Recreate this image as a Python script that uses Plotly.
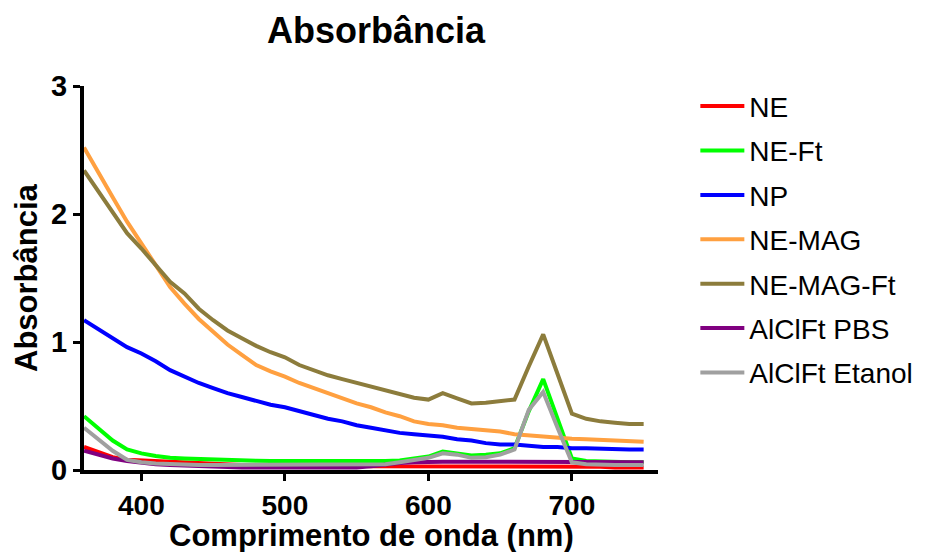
import plotly.graph_objects as go

# Wavelengths (nm), 10 nm steps
wavelength = list(range(360, 760, 10))

ne = [0.18, 0.14, 0.10, 0.08, 0.075, 0.07, 0.065, 0.06, 0.05, 0.045,
      0.04, 0.04, 0.04, 0.04, 0.04, 0.04, 0.04, 0.04, 0.04, 0.035,
      0.03, 0.03, 0.03, 0.03, 0.03, 0.03, 0.03, 0.03, 0.03, 0.03,
      0.03, 0.03, 0.03, 0.03, 0.03, 0.025, 0.025, 0.02, 0.02, 0.02]

ne_ft = [0.42, 0.32, 0.23, 0.16, 0.13, 0.11, 0.095, 0.09, 0.085, 0.08,
         0.078, 0.075, 0.072, 0.07, 0.07, 0.068, 0.066, 0.065, 0.065, 0.065,
         0.068, 0.07, 0.075, 0.087, 0.105, 0.145, 0.13, 0.113, 0.12, 0.13,
         0.17, 0.46, 0.71, 0.40, 0.09, 0.07, 0.065, 0.06, 0.06, 0.06]

np_ = [1.17, 1.10, 1.03, 0.96, 0.91, 0.85, 0.78, 0.73, 0.68, 0.64,
       0.60, 0.57, 0.54, 0.51, 0.49, 0.46, 0.43, 0.40, 0.38, 0.35,
       0.33, 0.31, 0.29, 0.28, 0.27, 0.26, 0.24, 0.23, 0.21, 0.20,
       0.20, 0.19, 0.18, 0.18, 0.17, 0.17, 0.165, 0.16, 0.16, 0.16]

ne_mag = [2.52, 2.32, 2.13, 1.94, 1.77, 1.60, 1.43, 1.30, 1.18, 1.08,
          0.98, 0.90, 0.82, 0.77, 0.73, 0.68, 0.64, 0.60, 0.56, 0.52,
          0.49, 0.45, 0.42, 0.38, 0.36, 0.35, 0.33, 0.32, 0.31, 0.30,
          0.28, 0.27, 0.26, 0.25, 0.245, 0.24, 0.235, 0.23, 0.225, 0.22]

ne_mag_ft = [2.34, 2.18, 2.02, 1.85, 1.73, 1.60, 1.47, 1.38, 1.26, 1.17,
             1.09, 1.03, 0.97, 0.92, 0.88, 0.82, 0.78, 0.74, 0.71, 0.68,
             0.65, 0.62, 0.59, 0.565, 0.55, 0.60, 0.56, 0.52, 0.525, 0.535,
             0.55, 0.81, 1.06, 0.75, 0.44, 0.40, 0.38, 0.37, 0.36, 0.36]

alclft_pbs = [0.15, 0.12, 0.09, 0.07, 0.055, 0.045, 0.04, 0.035, 0.03, 0.025,
              0.02, 0.02, 0.02, 0.02, 0.02, 0.02, 0.02, 0.02, 0.02, 0.02,
              0.03, 0.045, 0.055, 0.06, 0.065, 0.065, 0.065, 0.065, 0.065, 0.065,
              0.065, 0.065, 0.065, 0.065, 0.065, 0.06, 0.06, 0.06, 0.06, 0.06]

alclft_etanol = [0.33, 0.24, 0.15, 0.08, 0.06, 0.05, 0.045, 0.04, 0.04, 0.04,
                 0.04, 0.04, 0.04, 0.04, 0.04, 0.04, 0.04, 0.04, 0.04, 0.04,
                 0.04, 0.045, 0.06, 0.075, 0.095, 0.13, 0.12, 0.095, 0.10, 0.12,
                 0.16, 0.47, 0.61, 0.33, 0.06, 0.045, 0.04, 0.04, 0.04, 0.04]

series_names = ["NE", "NE-Ft", "NP", "NE-MAG", "NE-MAG-Ft", "AlClFt PBS", "AlClFt Etanol"]
series_values = [ne, ne_ft, np_, ne_mag, ne_mag_ft, alclft_pbs, alclft_etanol]
series_colors = ["#FF0000", "#00FF00", "#0000FF", "#FFA040", "#8C7C3C", "#800080", "#A0A0A0"]

x_ticks = [400, 500, 600, 700]
y_ticks = [0, 1, 2, 3]

FONT = "Liberation Sans, Arial, sans-serif"

# plot area in pixels
L, R, T, B = 84, 262, 86, 82
W, H = 930, 552
PW, PH = W - L - R, H - T - B

fig = go.Figure()
for i, (name, vals, col) in enumerate(zip(series_names, series_values, series_colors)):
    fig.add_trace(go.Scatter(
        x=wavelength, y=vals, mode="lines", name=name,
        line=dict(color=col, width=4),
        legendgroup=f"g{i}",
    ))

fig.update_layout(
    width=W, height=H,
    margin=dict(l=L, r=R, t=T, b=B),
    paper_bgcolor="white", plot_bgcolor="white",
    title=dict(text="Absorbância", x=(L + PW / 2) / W, xanchor="center",
               y=1 - 30 / H, yanchor="middle", yref="container",
               font=dict(family=FONT, size=36, color="black", weight="bold")),
    legend=dict(x=(706 - L) / PW, xanchor="left", y=1.012, yanchor="top",
                font=dict(family=FONT, size=28, color="black"),
                bgcolor="rgba(0,0,0,0)", tracegroupgap=5, itemwidth=44,
                maxheight=520),
    showlegend=True,
    annotations=[
        dict(text="Comprimento de onda (nm)", xref="paper", yref="paper",
             x=0.5, y=(T + PH - 535) / PH, xanchor="center", yanchor="middle",
             showarrow=False,
             font=dict(family=FONT, size=31, color="black", weight="bold")),
        dict(text="Absorbância", xref="paper", yref="paper",
             x=(25 - L) / PW, y=0.5, xanchor="center", yanchor="middle",
             textangle=-90, showarrow=False,
             font=dict(family=FONT, size=31, color="black", weight="bold")),
    ],
)

fig.update_xaxes(
    range=[360, 760], tickvals=x_ticks, ticks="outside", ticklen=7, tickwidth=3,
    tickcolor="black", showline=True, linewidth=4, linecolor="black",
    showgrid=False, zeroline=False, automargin=False,
    tickfont=dict(family=FONT, size=28, color="black", weight="bold"),
)
fig.update_yaxes(
    range=[0, 3], tickvals=y_ticks, ticks="outside", ticklen=7, tickwidth=3,
    tickcolor="black", showline=True, linewidth=4, linecolor="black",
    showgrid=False, zeroline=False, automargin=False,
    tickfont=dict(family=FONT, size=29, color="black", weight="bold"),
)

fig.write_html("out.html")
